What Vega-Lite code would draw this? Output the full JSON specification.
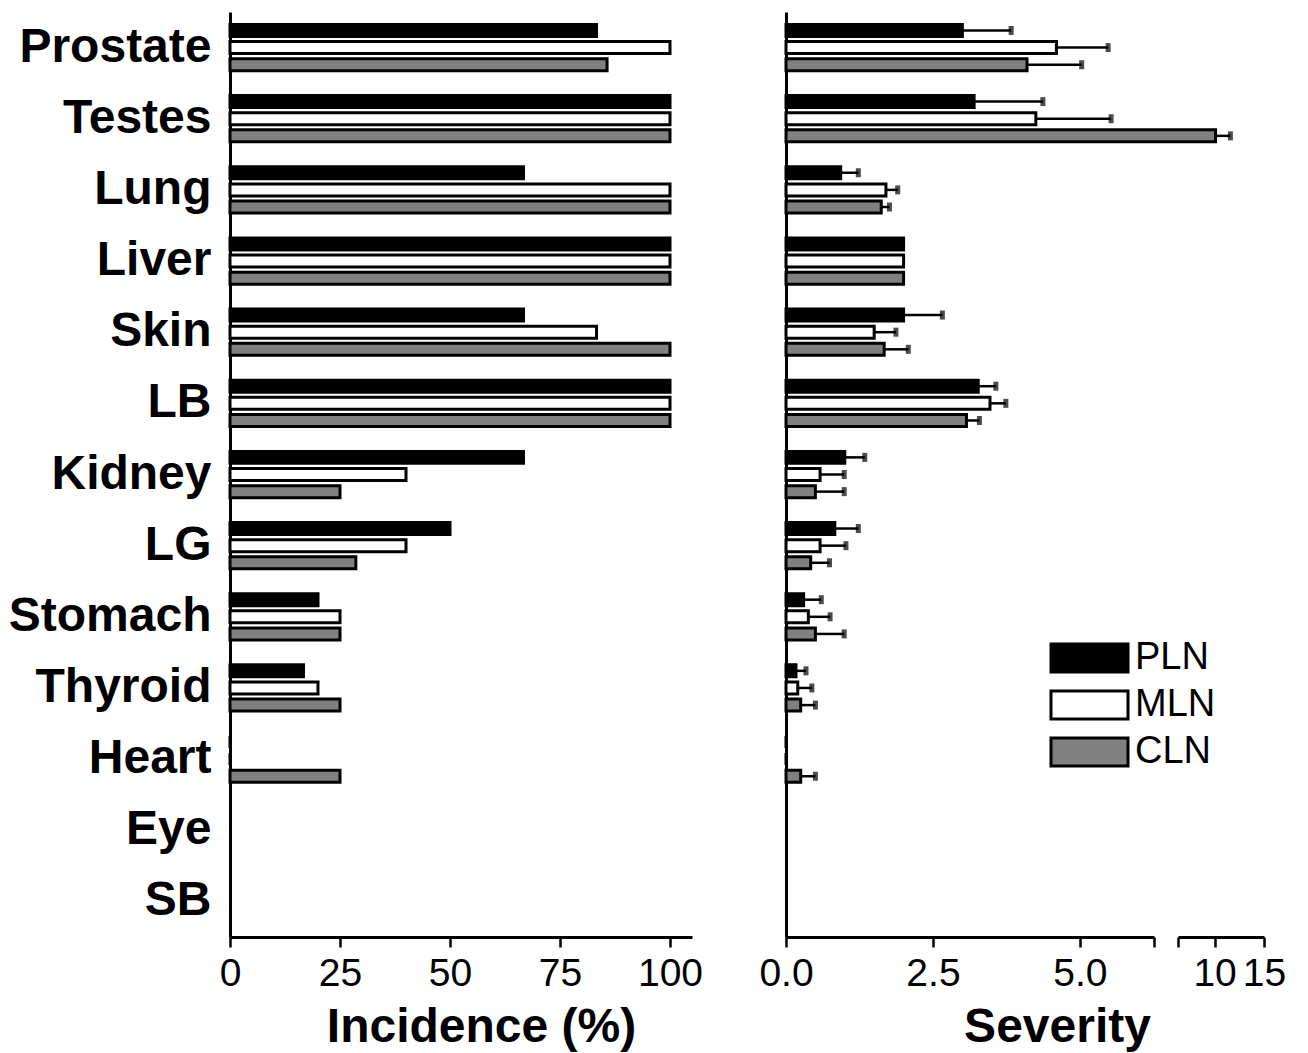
{
  "$schema": "https://vega.github.io/schema/vega-lite/v6.json",
  "background": "white",
  "padding": {"left": 6, "top": 12, "right": 5, "bottom": 5},
  "config": {
    "font": "Liberation Sans",
    "view": {"stroke": null},
    "axis": {"domainColor": "black", "domainWidth": 3, "tickColor": "black", "tickWidth": 2.5, "labelColor": "black", "titleColor": "black", "grid": false},
    "concat": {"spacing": 55}
  },
  "datasets": {
    "d": [
      {"organ": "Prostate", "group": "PLN", "incidence": 83.3, "severity": 3.0, "upper": 3.83},
      {"organ": "Prostate", "group": "MLN", "incidence": 100, "severity": 4.6, "upper": 5.48},
      {"organ": "Prostate", "group": "CLN", "incidence": 85.7, "severity": 4.1, "upper": 5.03},
      {"organ": "Testes", "group": "PLN", "incidence": 100, "severity": 3.2, "upper": 4.37},
      {"organ": "Testes", "group": "MLN", "incidence": 100, "severity": 4.25, "upper": 5.53},
      {"organ": "Testes", "group": "CLN", "incidence": 100, "severity": 10.1, "upper": 11.6},
      {"organ": "Lung", "group": "PLN", "incidence": 66.7, "severity": 0.93, "upper": 1.23},
      {"organ": "Lung", "group": "MLN", "incidence": 100, "severity": 1.7, "upper": 1.9},
      {"organ": "Lung", "group": "CLN", "incidence": 100, "severity": 1.62, "upper": 1.76},
      {"organ": "Liver", "group": "PLN", "incidence": 100, "severity": 2.0, "upper": null},
      {"organ": "Liver", "group": "MLN", "incidence": 100, "severity": 2.0, "upper": null},
      {"organ": "Liver", "group": "CLN", "incidence": 100, "severity": 2.0, "upper": null},
      {"organ": "Skin", "group": "PLN", "incidence": 66.7, "severity": 2.0, "upper": 2.66},
      {"organ": "Skin", "group": "MLN", "incidence": 83.3, "severity": 1.5, "upper": 1.87},
      {"organ": "Skin", "group": "CLN", "incidence": 100, "severity": 1.67, "upper": 2.08},
      {"organ": "LB", "group": "PLN", "incidence": 100, "severity": 3.27, "upper": 3.57},
      {"organ": "LB", "group": "MLN", "incidence": 100, "severity": 3.47, "upper": 3.74},
      {"organ": "LB", "group": "CLN", "incidence": 100, "severity": 3.07, "upper": 3.29},
      {"organ": "Kidney", "group": "PLN", "incidence": 66.7, "severity": 1.0, "upper": 1.34},
      {"organ": "Kidney", "group": "MLN", "incidence": 40, "severity": 0.58, "upper": 0.99},
      {"organ": "Kidney", "group": "CLN", "incidence": 25, "severity": 0.5, "upper": 0.99},
      {"organ": "LG", "group": "PLN", "incidence": 50, "severity": 0.83, "upper": 1.23},
      {"organ": "LG", "group": "MLN", "incidence": 40, "severity": 0.58, "upper": 1.02},
      {"organ": "LG", "group": "CLN", "incidence": 28.6, "severity": 0.42, "upper": 0.74},
      {"organ": "Stomach", "group": "PLN", "incidence": 20, "severity": 0.3, "upper": 0.6},
      {"organ": "Stomach", "group": "MLN", "incidence": 25, "severity": 0.38, "upper": 0.75},
      {"organ": "Stomach", "group": "CLN", "incidence": 25, "severity": 0.5, "upper": 0.99},
      {"organ": "Thyroid", "group": "PLN", "incidence": 16.7, "severity": 0.17, "upper": 0.34},
      {"organ": "Thyroid", "group": "MLN", "incidence": 20, "severity": 0.2, "upper": 0.44},
      {"organ": "Thyroid", "group": "CLN", "incidence": 25, "severity": 0.25, "upper": 0.5},
      {"organ": "Heart", "group": "PLN", "incidence": 0, "severity": 0, "upper": null},
      {"organ": "Heart", "group": "MLN", "incidence": 0, "severity": 0, "upper": null},
      {"organ": "Heart", "group": "CLN", "incidence": 25, "severity": 0.25, "upper": 0.5}
    ]
  },
  "data": {"name": "d"},
  "hconcat": [
    {
      "width": 462,
      "height": 925,
      "mark": {"type": "bar", "stroke": "black", "strokeWidth": 3},
      "encoding": {
        "y": {
          "field": "organ", "type": "nominal",
          "scale": {"domain": ["Prostate", "Testes", "Lung", "Liver", "Skin", "LB", "Kidney", "LG", "Stomach", "Thyroid", "Heart", "Eye", "SB"], "paddingInner": 0.35, "paddingOuter": 0.175},
          "axis": {"title": null, "ticks": false, "labelFontSize": 48, "labelFontWeight": "bold", "labelPadding": 19, "labelLimit": 0, "minExtent": 224, "maxExtent": 224}
        },
        "yOffset": {
          "field": "group", "type": "nominal",
          "scale": {"domain": ["PLN", "MLN", "CLN"], "paddingInner": 0.3, "paddingOuter": 0}
        },
        "x": {
          "field": "incidence", "type": "quantitative",
          "scale": {"domain": [0, 105], "nice": false},
          "axis": {"values": [0, 25, 50, 75, 100], "format": "d", "title": "Incidence (%)", "tickSize": 10, "labelFontSize": 39, "labelPadding": 7, "labelFlush": false, "labelOverlap": false, "titleFontSize": 48, "titleFontWeight": "bold", "titlePadding": 10, "titleX": 251}
        },
        "fill": {
          "field": "group", "type": "nominal",
          "scale": {"domain": ["PLN", "MLN", "CLN"], "range": ["black", "white", "#808080"]},
          "legend": {"orient": "none", "legendX": 816, "legendY": 627, "title": null, "symbolType": "M-1,-1H4.5V1H-1Z", "symbolSize": 784, "symbolStrokeColor": "black", "symbolStrokeWidth": 3, "labelFontSize": 38, "labelOffset": 51, "rowPadding": 7, "labelColor": "black", "labelLimit": 0}
        }
      }
    },
    {
      "width": 478,
      "height": 925,
      "encoding": {
        "y": {
          "field": "organ", "type": "nominal",
          "scale": {"domain": ["Prostate", "Testes", "Lung", "Liver", "Skin", "LB", "Kidney", "LG", "Stomach", "Thyroid", "Heart", "Eye", "SB"], "paddingInner": 0.35, "paddingOuter": 0.175},
          "axis": {"title": null, "labels": false, "ticks": false, "minExtent": 0, "maxExtent": 0}
        },
        "yOffset": {
          "field": "group", "type": "nominal",
          "scale": {"domain": ["PLN", "MLN", "CLN"], "paddingInner": 0.3, "paddingOuter": 0}
        }
      },
      "layer": [
        {
          "mark": {"type": "bar", "stroke": "black", "strokeWidth": 3},
          "encoding": {
            "x": {
              "field": "severity", "type": "quantitative",
              "scale": {"domain": [0, 6.26, 6.3, 15], "range": [0, 368, 392, 478], "nice": false, "zero": false},
              "axis": {"values": [0, 2.5, 5, 6.26, 6.3, 10, 15], "labelExpr": "datum.value == 6.26 || datum.value == 6.3 ? '' : (datum.value < 6 ? format(datum.value, '.1f') : format(datum.value, 'd'))", "domainDash": [368, 24, 86], "title": "Severity", "tickSize": 10, "labelFontSize": 39, "labelPadding": 7, "labelFlush": false, "labelOverlap": false, "titleFontSize": 48, "titleFontWeight": "bold", "titlePadding": 10, "titleX": 271}
            },
            "fill": {
              "field": "group", "type": "nominal",
              "scale": {"domain": ["PLN", "MLN", "CLN"], "range": ["black", "white", "#808080"]}
            }
          }
        },
        {
          "transform": [{"filter": "datum.upper != null"}],
          "mark": {"type": "rule", "color": "black", "strokeWidth": 2.5},
          "encoding": {
            "x": {"field": "severity", "type": "quantitative"},
            "x2": {"field": "upper"}
          }
        },
        {
          "transform": [{"filter": "datum.upper != null"}],
          "mark": {"type": "tick", "color": "black", "thickness": 5, "size": 9},
          "encoding": {
            "x": {"field": "upper", "type": "quantitative"}
          }
        }
      ]
    }
  ]
}
